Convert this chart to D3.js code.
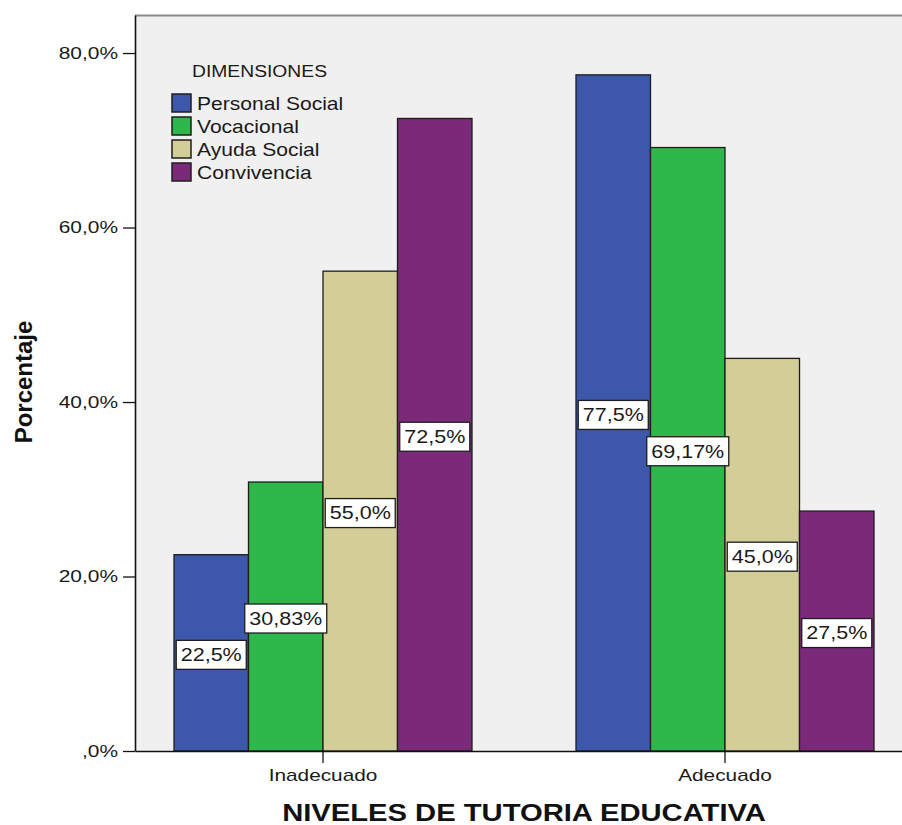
<!DOCTYPE html>
<html>
<head>
<meta charset="utf-8">
<script src="https://cdn.jsdelivr.net/npm/d3@7"></script>
<style>
  html, body { margin: 0; padding: 0; background: #fff; }
  svg { display: block; font-family: "Liberation Sans", Arial, sans-serif; }
</style>
</head>
<body>
<svg id="chart" width="902" height="825"></svg>
<script>
// Chart data
const categories = ["Inadecuado", "Adecuado"];
const seriesNames = ["Personal Social", "Vocacional", "Ayuda Social", "Convivencia"];
const personalSocial = [22.5, 77.5];
const vocacional = [30.83, 69.17];
const ayudaSocial = [55.0, 45.0];
const convivencia = [72.5, 27.5];
const yTicks = [0, 20, 40, 60, 80];
const seriesColors = ["#3d57ab", "#2eb74a", "#d3cd97", "#7b2979"];

const seriesValues = [personalSocial, vocacional, ayudaSocial, convivencia];

const svg = d3.select("#chart");
const plot = { left: 135, right: 913, top: 15, bottom: 751 };

// Comma decimal formatting, SPSS style (",0%" for zero)
function fmtValue(v) {
  const s = Number.isInteger(Math.round(v * 100) / 10) ? v.toFixed(1) : v.toFixed(2);
  return s.replace(".", ",") + "%";
}
function fmtTick(v) {
  let s = v.toFixed(1).replace(".", ",");
  if (s.startsWith("0,")) s = s.slice(1);
  return s + "%";
}

const y = d3.scaleLinear().domain([0, 84.36]).range([plot.bottom, plot.top]);
const x0 = d3.scaleBand().domain(categories).range([plot.left, plot.right])
  .paddingInner(0.2587).paddingOuter(0.097);
const x1 = d3.scaleBand().domain(seriesNames).range([0, x0.bandwidth()]).padding(0);

// Plot background
svg.append("rect")
  .attr("x", plot.left).attr("y", plot.top)
  .attr("width", plot.right - plot.left).attr("height", plot.bottom - plot.top)
  .attr("fill", "#f0f0f0");

// Top frame line
svg.append("line")
  .attr("x1", plot.left).attr("x2", plot.right)
  .attr("y1", plot.top + 0.5).attr("y2", plot.top + 0.5)
  .attr("stroke", "#8a8a8a").attr("stroke-width", 2);

// Bars
const rows = [];
categories.forEach((c, ci) => {
  seriesNames.forEach((s, si) => {
    rows.push({ cat: c, series: s, si, value: seriesValues[si][ci] });
  });
});

const groups = svg.append("g");
groups.selectAll("rect.bar").data(rows).join("rect")
  .attr("class", "bar")
  .attr("x", d => x0(d.cat) + x1(d.series))
  .attr("y", d => y(d.value))
  .attr("width", x1.bandwidth())
  .attr("height", d => y(0) - y(d.value))
  .attr("fill", d => seriesColors[d.si])
  .attr("stroke", "#1e1e1e")
  .attr("stroke-width", 1.3);

// Axes
const yAxis = svg.append("g")
  .attr("transform", `translate(${plot.left},0)`)
  .call(d3.axisLeft(y).tickValues(yTicks).tickFormat(fmtTick).tickSize(12).tickSizeOuter(0));
yAxis.select(".domain").attr("stroke", "#111").attr("stroke-width", 1.6);
yAxis.selectAll(".tick line").attr("stroke", "#111").attr("stroke-width", 1.3);
const kY = 1.23;
yAxis.selectAll(".tick text")
  .attr("font-size", 17).attr("fill", "#1a1a1a")
  .attr("font-family", "Liberation Sans, Arial, sans-serif")
  .attr("x", -17 / kY)
  .attr("transform", `scale(${kY},1)`);

const xAxis = svg.append("g")
  .attr("transform", `translate(0,${plot.bottom})`)
  .call(d3.axisBottom(x0).tickSize(12).tickPadding(7).tickSizeOuter(0));
xAxis.select(".domain").attr("stroke", "#111").attr("stroke-width", 1.4);
xAxis.selectAll(".tick line").attr("stroke", "#111").attr("stroke-width", 1.3);
const kX = 1.3;
xAxis.selectAll(".tick text")
  .attr("font-size", 16).attr("fill", "#1a1a1a")
  .attr("font-family", "Liberation Sans, Arial, sans-serif")
  .attr("transform", `scale(${kX},1)`);

// Value labels in boxed tags at bar mid-height
const kL = 1.23;
const labels = svg.append("g").selectAll("g.lab").data(rows).join("g")
  .attr("class", "lab")
  .attr("transform", d => `translate(${x0(d.cat) + x1(d.series) + x1.bandwidth() / 2},${(y(d.value) + y(0)) / 2 + 2})`);
labels.each(function (d) {
  const g = d3.select(this);
  const box = g.append("rect");
  const t = g.append("text")
    .attr("text-anchor", "middle")
    .attr("dy", "0.36em")
    .attr("font-size", 17.5)
    .attr("fill", "#1a1a1a")
    .attr("transform", `scale(${kL},1)`)
    .text(fmtValue(d.value));
  const w = t.node().getComputedTextLength() * kL + 9;
  box.attr("x", -w / 2).attr("y", -14.5).attr("width", w).attr("height", 29)
    .attr("fill", "#fff").attr("stroke", "#1e1e1e").attr("stroke-width", 1.3);
});

// Legend
const kG = 1.17;
const legend = svg.append("g");
legend.append("text")
  .attr("transform", `translate(192,77) scale(${kG},1)`)
  .attr("font-size", 16.5).attr("fill", "#1a1a1a")
  .text("DIMENSIONES");
const items = legend.selectAll("g.item").data(seriesNames).join("g")
  .attr("class", "item")
  .attr("transform", (d, i) => `translate(172,${103 + i * 23})`);
items.append("rect")
  .attr("x", 0).attr("y", -9).attr("width", 19).attr("height", 18)
  .attr("fill", (d, i) => seriesColors[i])
  .attr("stroke", "#1e1e1e").attr("stroke-width", 1.5);
items.append("text")
  .attr("transform", `translate(25,6.5) scale(${kG},1)`)
  .attr("font-size", 18).attr("fill", "#1a1a1a")
  .text(d => d);

// Axis titles
svg.append("text")
  .attr("transform", `translate(524,821) scale(1.27,1)`)
  .attr("text-anchor", "middle")
  .attr("font-size", 23).attr("font-weight", "bold").attr("fill", "#111")
  .text("NIVELES DE TUTORIA EDUCATIVA");

svg.append("text")
  .attr("transform", `translate(32,382) rotate(-90)`)
  .attr("text-anchor", "middle")
  .attr("font-size", 24).attr("font-weight", "bold").attr("fill", "#111")
  .text("Porcentaje");
</script>
</body>
</html>
